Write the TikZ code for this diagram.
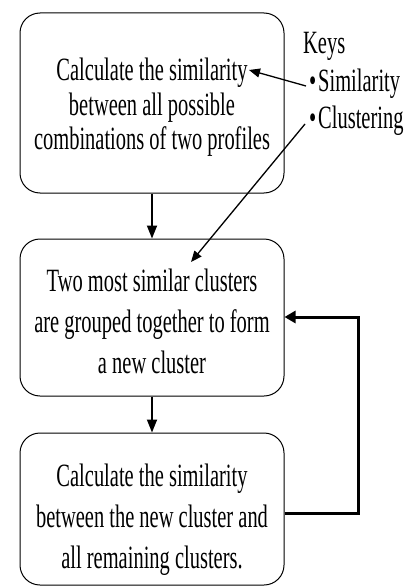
\documentclass[tikz,border=0pt]{standalone}
\usepackage{fontspec}
\setmainfont[FakeStretch=0.63]{Liberation Serif}
\usetikzlibrary{arrows.meta}
\begin{document}
\begin{tikzpicture}[x=1pt,y=-1pt,
  proc/.style={draw,line width=1pt,rounded corners=20pt,minimum width=264pt,align=center,inner sep=0pt},
  txt/.style={font=\fontsize{32.5}{36}\selectfont},
  arr/.style={line width=1.8pt,-{Triangle[length=13pt,width=10pt]}},
  thin arr/.style={line width=1.3pt,-{Triangle[length=11pt,width=9pt]}},
  loop arr/.style={line width=3pt,-{Triangle[length=11pt,width=12pt]}}]
\useasboundingbox (0,0) rectangle (406,586);
\node[proc,minimum height=180pt,font=\fontsize{32.5}{34.5}\selectfont] (b1) at (152,103)
  {\rule{0pt}{31pt}Calculate the similarity\\between all possible\\combinations of two profiles};
\node[proc,minimum height=157pt,font=\fontsize{32.5}{41}\selectfont] (b2) at (152,317.5)
  {\rule{0pt}{30pt}Two most similar clusters\\are grouped together to form\\a new cluster};
\node[proc,minimum height=152pt,font=\fontsize{32.5}{41}\selectfont] (b3) at (152,509)
  {\rule{0pt}{44pt}Calculate the similarity\\between the new cluster and\\all remaining clusters.};
\node[txt,anchor=base west,inner sep=0pt] (keys) at (303,54) {Keys};
\node[txt,anchor=base west,inner sep=0pt] (bsim) at (309,91) {•};
\node[txt,anchor=base west,inner sep=0pt] (tsim) at (318,91) {Similarity};
\node[txt,anchor=base west,inner sep=0pt] (bclu) at (309,128) {•};
\node[txt,anchor=base west,inner sep=0pt] (tclu) at (318,128) {Clustering};
\coordinate (simtip) at (249,70);
\coordinate (clutip) at (191,262);
\coordinate (simstart) at (306,86);
\coordinate (clustart) at (305,124);
\draw[arr] (b1.south) -- (b2.north);
\draw[arr] (b2.south) -- (b3.north);
\draw[thin arr] (simstart) -- (simtip);
\draw[thin arr] (clustart) -- (clutip);
\draw[loop arr] (b3.east |- 0,513) -| (358,317) -- (b2.east |- 0,317);
\end{tikzpicture}
\end{document}
